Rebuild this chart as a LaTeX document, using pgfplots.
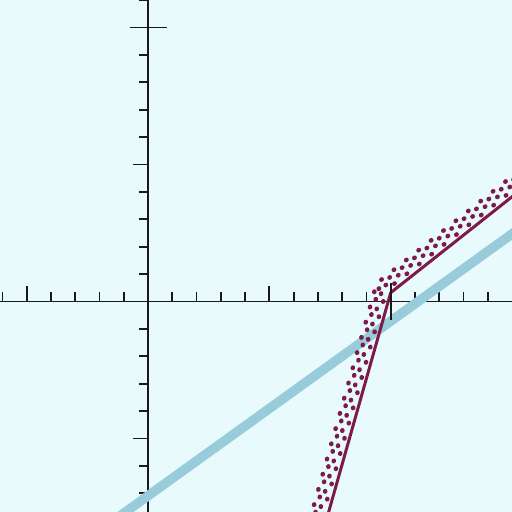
\documentclass[border=0pt]{standalone}
\usepackage{pgfplots}
\pgfplotsset{compat=1.18}
\definecolor{bg}{HTML}{E8FAFC}
\definecolor{lblue}{HTML}{99CCDA}
\definecolor{maroon}{HTML}{7D1A4B}
\begin{document}
\begin{tikzpicture}
\begin{axis}[
 width=512bp, height=512bp, scale only axis,
 xmin=-6.1, xmax=15.0, ymin=-7.68, ymax=11.0,
 axis lines=middle,
 axis line style={-, line width=1.8bp, black!90},
 axis background/.style={fill=bg},
 xtick={-6,-4,-3,-2,-1,1,2,3,4,6,7,8,9,11,12,13,14},
 ytick={-7,-6,-4,-3,-2,-1,1,2,3,4,6,7,8,9,11},
 minor xtick={-5,5}, minor ytick={-5,5},
 xtick align=inside, ytick align=outside,
 major tick length=9.5bp, minor tick length=15bp,
 tick style={line width=1.8bp, black!90},
 xticklabels={}, yticklabels={},
 clip=true,
 dotrow/.style={maroon, line width=4.5bp, line cap=round, dash pattern=on 0.5bp off 15.3bp, forget plot},
]
\addplot[lblue, line width=9.5bp, forget plot] coordinates {(-2,-8.364) (16,3.102)};
% row d=4.8
\addplot[dotrow, dash phase=5.6bp] coordinates {(9.8097,0.3677) (6.8097,-9.0223)};
\addplot[dotrow, dash phase=4.4bp] coordinates {(9.8097,0.3677) (9.8356,0.4173) (9.8773,0.4574) (15.3773,4.3074)};
% row d=9
\addplot[dotrow, dash phase=12.5bp] coordinates {(9.6432,0.4094) (6.6432,-8.9806)};
\addplot[dotrow, dash phase=9.46bp] coordinates {(9.6432,0.4094) (9.6917,0.5024) (9.7700,0.5776) (15.2700,4.4276)};
% row d=12.6
\addplot[dotrow, dash phase=5.6bp] coordinates {(9.5005,0.4451) (6.5005,-8.9449)};
\addplot[dotrow, dash phase=15.3bp] coordinates {(9.5005,0.4451) (9.5683,0.5754) (9.6780,0.6806) (15.1780,4.5306)};
% row d=16
\addplot[dotrow, dash phase=12.5bp] coordinates {(9.3657,0.4789) (6.3657,-8.9111)};
\addplot[dotrow, dash phase=5.07bp] coordinates {(9.3657,0.4789) (9.4518,0.6443) (9.5911,0.7779) (15.0911,4.6279)};
% solid
\addplot[maroon, line width=3bp, line join=round, forget plot] coordinates {(7.0,-9.07) (10,0.32) (15.5,4.17)};
% crossing ticks
\addplot[black!90, line width=1.8bp, forget plot] coordinates {(10,-0.675) (10,0.675)};
\addplot[black!90, line width=1.8bp, forget plot] coordinates {(-0.762,10) (0.762,10)};
\end{axis}
\pgfresetboundingbox
\useasboundingbox (current axis.south west) rectangle (current axis.north east);
\end{tikzpicture}
\end{document}
